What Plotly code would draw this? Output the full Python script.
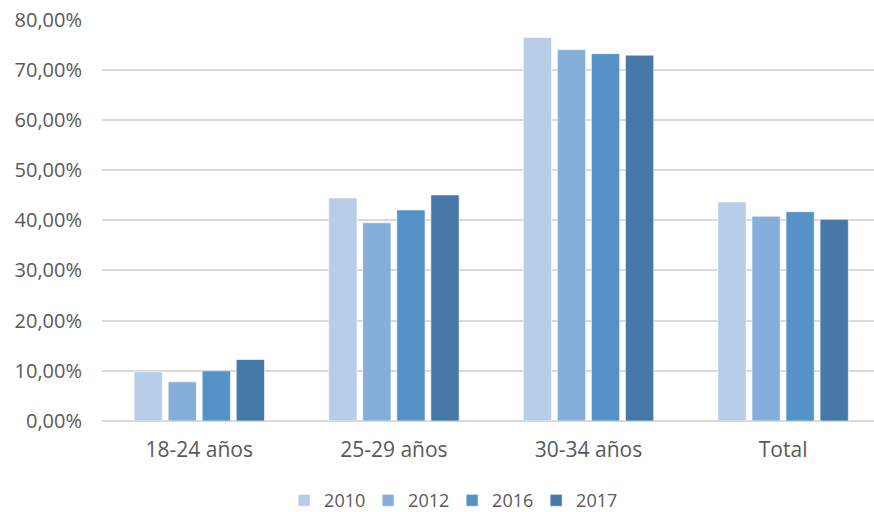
import plotly.graph_objects as go

categories = ["18-24 años", "25-29 años", "30-34 años", "Total"]
years = ["2010", "2012", "2016", "2017"]
v2010 = [9.8, 44.45, 76.4, 43.65]
v2012 = [7.8, 39.5, 74.0, 40.8]
v2016 = [10.0, 42.05, 73.2, 41.7]
v2017 = [12.25, 45.05, 72.9, 40.2]
series = [v2010, v2012, v2016, v2017]
colors = ["#B7CDE8", "#86AEDB", "#5592C8", "#4678A8"]
tick_vals = [0, 10, 20, 30, 40, 50, 60, 70, 80]
tick_text = ["0,00%", "10,00%", "20,00%", "30,00%", "40,00%", "50,00%", "60,00%", "70,00%", "80,00%"]

fig = go.Figure()
for name, vals, c in zip(years, series, colors):
    fig.add_trace(go.Bar(x=categories, y=vals, name=name,
                         marker=dict(color=c, line=dict(color="rgba(255,255,255,0.6)", width=1))))

fig.update_layout(
    width=874, height=512,
    margin=dict(l=102, r=0, t=19, b=91, autoexpand=False),
    paper_bgcolor="white", plot_bgcolor="white",
    barmode="group", bargap=0.3, bargroupgap=0.17,
    font=dict(family="Open Sans, Liberation Sans, sans-serif", size=20, color="#595959"),
    showlegend=True,
    legend=dict(orientation="h", x=0.4535, xanchor="center", y=-0.198, yanchor="middle",
                font=dict(size=18, color="#595959"), itemwidth=30, traceorder="normal",
                entrywidth=39, entrywidthmode="pixels"),
    xaxis=dict(showgrid=False, showline=False, ticks="", tickfont=dict(size=21),
               ticklabelstandoff=14, automargin=False, range=[-0.5, 3.467]),
    yaxis=dict(range=[0, 80.1], tickvals=tick_vals, ticktext=tick_text,
               showgrid=True, gridcolor="#D9D9D9", gridwidth=1.5, zeroline=True,
               zerolinecolor="#D9D9D9", zerolinewidth=1.5, showline=False, ticks="",
               tickfont=dict(size=20), ticklabelstandoff=19, automargin=False),
)
fig.write_html(
    "out.html",
    config={"displayModeBar": False},
    post_script=("document.documentElement.style.overflow='hidden';"
                 "document.body.style.overflow='hidden';"
                 "document.body.style.margin='0';"),
)
